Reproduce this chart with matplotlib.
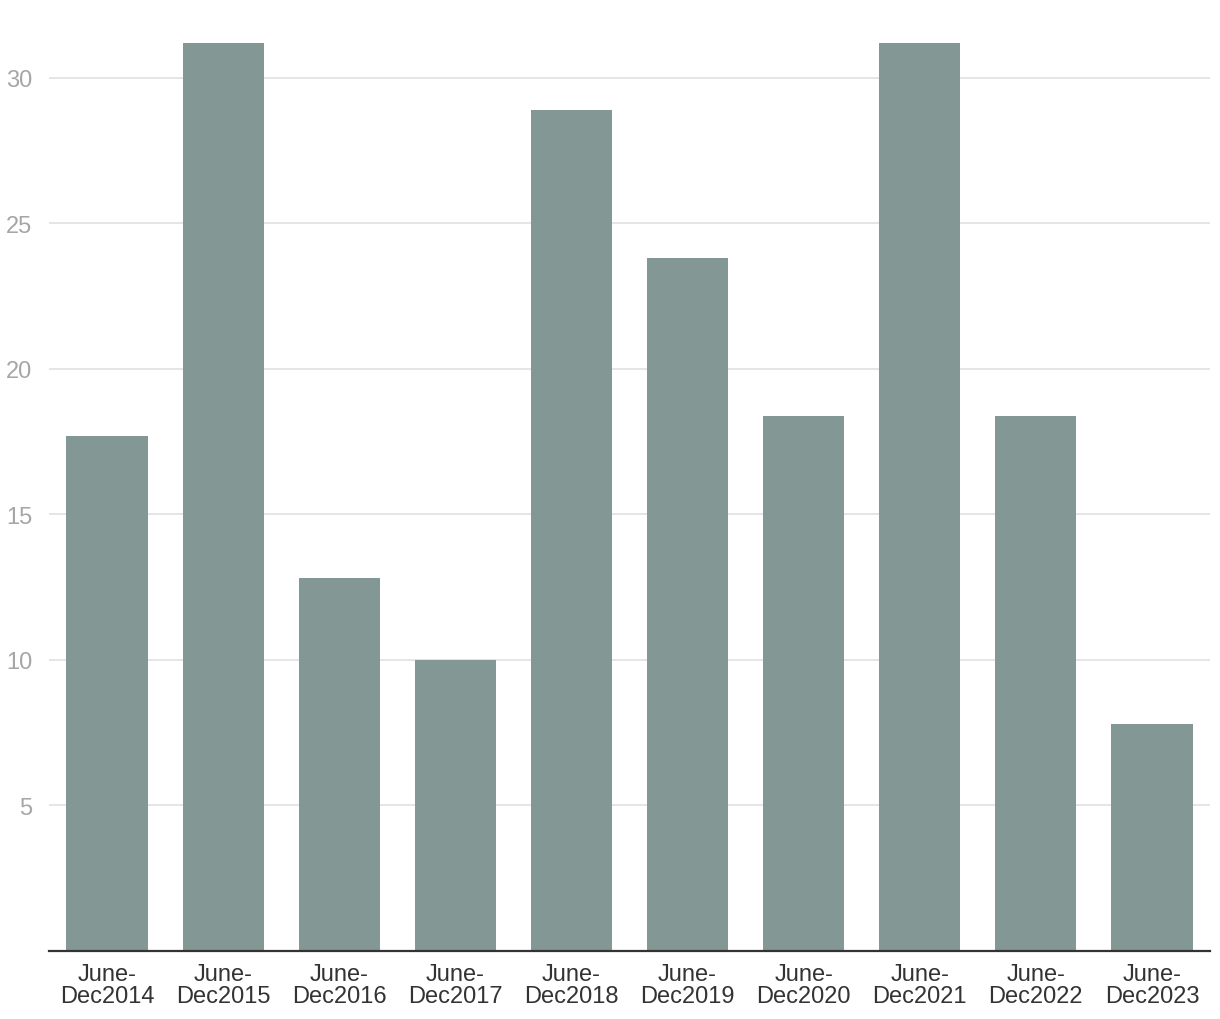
import matplotlib
matplotlib.use("Agg")
import matplotlib.pyplot as plt

categories = ["June-\nDec2014", "June-\nDec2015", "June-\nDec2016", "June-\nDec2017",
              "June-\nDec2018", "June-\nDec2019", "June-\nDec2020", "June-\nDec2021",
              "June-\nDec2022", "June-\nDec2023"]
values = [17.7, 31.2, 12.8, 10.0, 28.9, 23.8, 18.4, 31.2, 18.4, 7.8]
yticks = [5, 10, 15, 20, 25, 30]

plt.rcParams['font.family'] = ['Liberation Sans', 'DejaVu Sans']

fig = plt.figure(figsize=(12.2, 10.2), dpi=100)
W, H = 1220, 1020
left, right, top, bottom = 49, 1210, 44, 952
ax = fig.add_axes([left / W, (H - bottom) / H, (right - left) / W, (bottom - top) / H])

x = list(range(len(categories)))
ax.bar(x, values, width=0.7, color="#839794", zorder=2)
ax.set_xlim(-0.5, len(categories) - 0.5)
ax.set_ylim(0, 31.2)

ax.set_yticks(yticks)
ax.set_yticklabels([str(t) for t in yticks])
ax.yaxis.grid(True, color="#e3e3e3", linewidth=1.3, zorder=0)
ax.set_axisbelow(True)
ax.tick_params(axis='y', length=0, pad=12, labelsize=17, labelcolor="#a6a6a6")

ax.set_xticks(x)
ax.set_xticklabels(categories, linespacing=1.0)
ax.tick_params(axis='x', length=0, pad=9, labelsize=17, labelcolor="#333333")

for s in ["top", "right", "left"]:
    ax.spines[s].set_visible(False)
ax.spines["bottom"].set_color("#333333")
ax.spines["bottom"].set_linewidth(1.6)
ax.spines["bottom"].set_zorder(3)

fig.savefig("out.png", dpi=100)
